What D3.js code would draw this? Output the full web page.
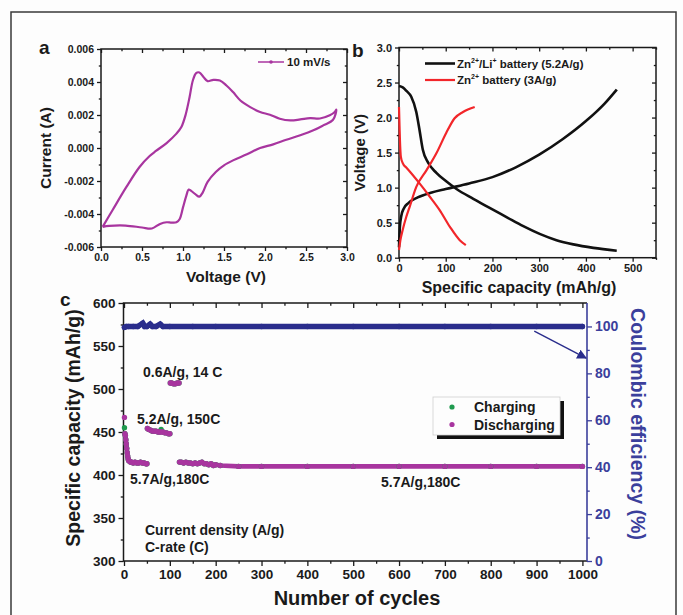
<!DOCTYPE html>
<html>
<head>
<meta charset="utf-8">
<script src="https://cdn.jsdelivr.net/npm/d3@7"></script>
<style>
  body { margin: 0; background: #fdfdfd; }
  text { font-family: "Liberation Sans", Arial, sans-serif; font-weight: bold; fill: #1a1a1a; }
</style>
</head>
<body>
<svg id="fig" width="683" height="615"></svg>
<script>
// ---------- Panel a: cyclic voltammogram at 10 mV/s ----------
const cvVoltage = [0.02,0.14,0.31,0.47,0.59,0.67,0.80,0.92,0.98,1.03,1.08,1.12,1.16,1.20,1.25,1.30,1.37,1.45,1.53,1.61,1.70,1.82,1.94,2.06,2.18,2.31,2.43,2.55,2.67,2.79,2.85,2.87,
  2.83,2.71,2.59,2.43,2.26,2.10,1.94,1.78,1.61,1.50,1.40,1.30,1.24,1.20,1.15,1.10,1.07,1.04,1.00,0.96,0.92,0.86,0.80,0.72,0.62,0.50,0.30,0.10,0.02];
const cvCurrent = [-0.00478,-0.00377,-0.00236,-0.00115,-0.00050,-0.00018,0.00030,0.00087,0.00127,0.00198,0.00308,0.00409,0.00454,0.00458,0.00430,0.00405,0.00413,0.00409,0.00379,0.00339,0.00288,0.00248,0.00218,0.00202,0.00177,0.00167,0.00173,0.00181,0.00179,0.00198,0.00218,0.00232,
  0.00171,0.00137,0.00107,0.00077,0.00050,0.00022,0.00000,-0.00038,-0.00075,-0.00105,-0.00145,-0.00205,-0.00270,-0.00295,-0.00280,-0.00260,-0.00252,-0.00290,-0.00360,-0.00430,-0.00450,-0.00452,-0.00450,-0.00460,-0.00488,-0.00482,-0.00470,-0.00472,-0.00478];
const cvXTicks = [0, 0.5, 1.0, 1.5, 2.0, 2.5, 3.0];
const cvYTicks = [-0.006, -0.004, -0.002, 0, 0.002, 0.004, 0.006];

// ---------- Panel b: galvanostatic profiles ----------
const liDisCap = [0,8,16,26,37,44,51,62,80,101,123,159,194,230,266,301,337,373,416,466];
const liDisV   = [2.45,2.43,2.38,2.30,2.08,1.82,1.54,1.36,1.21,1.09,0.98,0.84,0.71,0.58,0.45,0.34,0.25,0.19,0.14,0.10];
const liChgCap = [0,1,2,5,10,20,40,70,100,150,200,250,300,350,400,440,466];
const liChgV   = [0.15,0.32,0.45,0.60,0.70,0.78,0.86,0.93,0.98,1.06,1.15,1.29,1.47,1.69,1.95,2.20,2.40];
const znDisCap = [0,1,2,4,8,15,23,44,66,87,109,130,143];
const znDisV   = [2.15,1.90,1.68,1.44,1.35,1.29,1.23,1.06,0.87,0.68,0.44,0.25,0.18];
const znChgCap = [0,3,8,15,23,37,59,80,101,119,137,162];
const znChgV   = [0.11,0.25,0.40,0.57,0.73,1.01,1.25,1.49,1.78,1.99,2.08,2.15];
const capXTicks = [0, 100, 200, 300, 400, 500];
const capYTicks = [0, 0.5, 1.0, 1.5, 2.0, 2.5, 3.0];

// ---------- Panel c: rate / long-term cycling ----------
const capCycles = [1,2,3,4,5,6,7,8,9,10,12,14,17,20,24,28,32,36,40,44,48,50,
  51,54,58,62,66,70,74,78,81,85,89,93,97,100,
  101,104,108,112,116,120,
  121,125,130,135,140,145,150,155,160,165,170,175,180,185,190,195,200,210,250,300,400,500,600,700,800,900,1000];
const dischargeCap = [467,448,446,441,436,431,426,422,419,417,416,415,415,414,415,414,414,415,414,414,413,413,
  454,453,452,451,451,451,450,450,450,450,449,449,448,448,
  507,507,506,506,507,507,
  415,415,414,415,414,414,413,414,413,414,415,413,413,412,413,411,412,411,410,410,410,410,410,410,410,410,410];
const chargeCap = [455,448,446,441,436,431,426,422,419,417,416,415,415,414,415,414,414,415,414,414,413,413,
  454,453,452,451,451,451,450,450,453,450,449,449,448,448,
  507,507,506,506,507,507,
  415,415,414,415,414,414,413,414,413,414,415,413,413,412,413,411,412,411,410,410,410,410,410,410,410,410,410];
const rateSegmentStarts = [1, 51, 101, 121, 1001];
const ceCycles = [1,5,10,20,30,41,45,50,57,62,70,79,85,100,150,200,300,400,500,600,700,800,900,1000];
const ceValues = [99.6,100,100,100,100,101.4,100,100,101.0,100,100,101.0,100,100,100,100,100,100,100,100,100,100,100,100];
const cycleTicks = [0,100,200,300,400,500,600,700,800,900,1000];
const capTicksC = [300,350,400,450,500,550,600];
const ceTicks = [0,20,40,60,80,100];

const MAGENTA = "#a8359f", GREEN = "#1f9a4e", NAVY = "#2a2d8c", AXBLUE = "#3b3f9c", RED = "#f2262a";

const svg = d3.select("#fig");

// outer frame (three sides visible)
svg.append("path").attr("d", "M11,615 V12 H676 V615")
  .attr("fill", "none").attr("stroke", "#3a3a3a").attr("stroke-width", 1.5);

function range(a, b, s) { return d3.range(a, b + s / 2, s); }

// axis helper: major ticks with labels, minor ticks without
function axis(g, gen, scale, majors, minors, len, fmt, fontSize, color) {
  const major = g.append("g").call(gen(scale).tickValues(majors).tickSizeInner(len).tickSizeOuter(0)
      .tickPadding(3).tickFormat(fmt || (() => "")));
  const minor = g.append("g").call(gen(scale).tickValues(minors).tickSizeInner(len * 0.55).tickSizeOuter(0).tickFormat(() => ""));
  [major, minor].forEach(a => {
    a.select(".domain").remove();
    a.selectAll("line").attr("stroke", color || "#1a1a1a").attr("stroke-width", 1.3);
  });
  major.selectAll("text").attr("font-size", fontSize).style("fill", color || "#1a1a1a")
    .attr("font-family", '"Liberation Sans", Arial, sans-serif').attr("font-weight", "bold");
}
const hy = s => s.replace("\u2212", "-");

// ====================== Panel a ======================
const xA = d3.scaleLinear().domain([0, 3]).range([101, 347]);
const yA = d3.scaleLinear().domain([-0.006, 0.006]).range([247, 49]);
const gA = svg.append("g");
axis(gA.append("g").attr("transform", `translate(0,${yA(-0.006)})`), d3.axisBottom, xA, cvXTicks, range(0.25, 2.75, 0.5), 4, d => d3.format(".1f")(d), 10.5);
axis(gA.append("g").attr("transform", `translate(${xA(0)},0)`), d3.axisLeft, yA, cvYTicks, range(-0.005, 0.005, 0.002), 4, d => hy(d3.format(".3f")(d)), 10.5);
axis(gA.append("g").attr("transform", `translate(0,${yA(0.006)})`), d3.axisTop, xA, cvXTicks, range(0.25, 2.75, 0.5), -4, null, 10);
axis(gA.append("g").attr("transform", `translate(${xA(3)},0)`), d3.axisRight, yA, cvYTicks, range(-0.005, 0.005, 0.002), -4, null, 10);
gA.append("rect").attr("x", xA(0)).attr("y", yA(0.006)).attr("width", xA(3) - xA(0)).attr("height", yA(-0.006) - yA(0.006))
  .attr("fill", "none").attr("stroke", "#1a1a1a").attr("stroke-width", 1.5);

const cvPts = cvVoltage.map((v, i) => [v, cvCurrent[i]]);
const cvLine = d3.line().x(d => xA(d[0])).y(d => yA(d[1])).curve(d3.curveCatmullRom.alpha(0.5));
gA.append("path").attr("d", cvLine(cvPts)).attr("fill", "none").attr("stroke", MAGENTA).attr("stroke-width", 2.2);

// legend a
gA.append("line").attr("x1", 258).attr("x2", 284).attr("y1", 62).attr("y2", 62).attr("stroke", MAGENTA).attr("stroke-width", 1.5);
gA.append("circle").attr("cx", 271).attr("cy", 62).attr("r", 1.8).attr("fill", MAGENTA);
gA.append("text").attr("x", 287).attr("y", 66).attr("font-size", 11.5).text("10 mV/s");

gA.append("text").attr("x", 39).attr("y", 54).attr("font-size", 19).text("a");
gA.append("text").attr("transform", `translate(51,${yA(0)}) rotate(-90)`).attr("text-anchor", "middle").attr("font-size", 15.5).text("Current (A)");
gA.append("text").attr("x", 226).attr("y", 282).attr("text-anchor", "middle").attr("font-size", 15.5).text("Voltage (V)");

// ====================== Panel b ======================
const xB = d3.scaleLinear().domain([0, 550]).range([399, 656]);
const yB = d3.scaleLinear().domain([0, 3]).range([257.7, 47.5]);
const gB = svg.append("g");
axis(gB.append("g").attr("transform", `translate(0,${yB(0)})`), d3.axisBottom, xB, capXTicks, range(50, 550, 100), 4, d => d, 11);
axis(gB.append("g").attr("transform", `translate(${xB(0)},0)`), d3.axisLeft, yB, capYTicks, range(0.25, 2.75, 0.5), 4, d => d3.format(".1f")(d), 11);
axis(gB.append("g").attr("transform", `translate(0,${yB(3)})`), d3.axisTop, xB, capXTicks, range(50, 550, 100), -4, null, 10);
axis(gB.append("g").attr("transform", `translate(${xB(550)},0)`), d3.axisRight, yB, capYTicks, range(0.25, 2.75, 0.5), -4, null, 10);
gB.append("rect").attr("x", xB(0)).attr("y", yB(3)).attr("width", xB(550) - xB(0)).attr("height", yB(0) - yB(3))
  .attr("fill", "none").attr("stroke", "#1a1a1a").attr("stroke-width", 1.5);

const lineB = d3.line().x(d => xB(d[0])).y(d => yB(d[1])).curve(d3.curveMonotoneX);
const zip = (a, b) => a.map((v, i) => [v, b[i]]);
[[liDisCap, liDisV, "#111", 2.6], [liChgCap, liChgV, "#111", 2.6], [znDisCap, znDisV, RED, 2.2], [znChgCap, znChgV, RED, 2.2]]
  .forEach(([c, v, col, w]) => gB.append("path").attr("d", lineB(zip(c, v))).attr("fill", "none").attr("stroke", col).attr("stroke-width", w));

// legend b
gB.append("line").attr("x1", 425).attr("x2", 455).attr("y1", 63.5).attr("y2", 63.5).attr("stroke", "#111").attr("stroke-width", 2.6);
gB.append("line").attr("x1", 425).attr("x2", 455).attr("y1", 80).attr("y2", 80).attr("stroke", RED).attr("stroke-width", 2.2);
const lb1 = gB.append("text").attr("x", 457).attr("y", 67.5).attr("font-size", 11.5);
lb1.append("tspan").text("Zn");
lb1.append("tspan").attr("font-size", 7).attr("dy", -5).text("2+");
lb1.append("tspan").attr("dy", 5).text("/Li");
lb1.append("tspan").attr("font-size", 7).attr("dy", -5).text("+");
lb1.append("tspan").attr("dy", 5).text(" battery (5.2A/g)");
const lb2 = gB.append("text").attr("x", 457).attr("y", 84).attr("font-size", 11.5);
lb2.append("tspan").text("Zn");
lb2.append("tspan").attr("font-size", 7).attr("dy", -5).text("2+");
lb2.append("tspan").attr("dy", 5).text(" battery (3A/g)");

gB.append("text").attr("x", 352).attr("y", 57).attr("font-size", 19).text("b");
gB.append("text").attr("transform", `translate(365,${yB(1.5)}) rotate(-90)`).attr("text-anchor", "middle").attr("font-size", 15).text("Voltage (V)");
gB.append("text").attr("x", 519).attr("y", 292.5).attr("text-anchor", "middle").attr("font-size", 16).text("Specific capacity (mAh/g)");

// ====================== Panel c ======================
const xC = d3.scaleLinear().domain([0, 1010]).range([124, 587]);
const yC = d3.scaleLinear().domain([300, 600]).range([561, 303]);
const yCE = d3.scaleLinear().domain([0, 110]).range([561, 303]);
const gC = svg.append("g");
axis(gC.append("g").attr("transform", `translate(0,${yC(300)})`), d3.axisBottom, xC, cycleTicks, range(50, 950, 100), 5, d => d, 13.5);
axis(gC.append("g").attr("transform", `translate(${xC(0) - 0.5},0)`), d3.axisLeft, yC, capTicksC, range(325, 575, 50), 5, d => d, 13.5);
axis(gC.append("g").attr("transform", `translate(0,${yC(600)})`), d3.axisTop, xC, cycleTicks, range(50, 950, 100), -5, null, 10);
axis(gC.append("g").attr("transform", `translate(${xC(1010)},0)`), d3.axisRight, yCE, ceTicks, range(10, 90, 20), 5, d => d, 14, AXBLUE);
gC.append("path").attr("d", `M${xC(1010)},${yC(600)} H${xC(0) - 0.5} V${yC(300)} H${xC(1010)}`)
  .attr("fill", "none").attr("stroke", "#1a1a1a").attr("stroke-width", 1.5);
gC.append("line").attr("x1", xC(1010)).attr("x2", xC(1010)).attr("y1", yC(600)).attr("y2", yC(300))
  .attr("stroke", AXBLUE).attr("stroke-width", 1.6);

// split readings by current-density step
function segments(cyc, vals) {
  const segs = [];
  for (let s = 0; s < rateSegmentStarts.length - 1; s++) {
    const pts = cyc.map((c, i) => [c, vals[i]]).filter(p => p[0] >= rateSegmentStarts[s] && p[0] < rateSegmentStarts[s + 1]);
    if (pts.length) segs.push(pts);
  }
  return segs;
}
const bandLine = d3.line().x(d => xC(d[0])).y(d => yC(d[1]));
const bandLineCE = d3.line().x(d => xC(d[0])).y(d => yCE(d[1]));

// coulombic efficiency
gC.append("path").attr("d", bandLineCE(zip(ceCycles, ceValues))).attr("fill", "none").attr("stroke", NAVY)
  .attr("stroke-width", 5.4).attr("stroke-linecap", "round");
gC.selectAll(".ce").data(zip(ceCycles, ceValues)).join("circle")
  .attr("cx", d => xC(d[0])).attr("cy", d => yCE(d[1])).attr("r", 2.7).attr("fill", NAVY);

// discharge band under the dots
segments(capCycles, dischargeCap).forEach(seg => {
  gC.append("path").attr("d", bandLine(seg.filter(p => p[0] > 1))).attr("fill", "none").attr("stroke", MAGENTA)
    .attr("stroke-width", 4.6).attr("stroke-linecap", "round");
});
gC.selectAll(".chg").data(zip(capCycles, chargeCap)).join("circle")
  .attr("cx", d => xC(d[0])).attr("cy", d => yC(d[1])).attr("r", 2.7).attr("fill", GREEN);
gC.selectAll(".dis").data(zip(capCycles, dischargeCap)).join("circle")
  .attr("cx", d => xC(d[0])).attr("cy", d => yC(d[1])).attr("r", 2.7).attr("fill", MAGENTA);

// arrow pointing to the efficiency axis
const defs = svg.append("defs");
defs.append("marker").attr("id", "arr").attr("viewBox", "0 0 10 10").attr("refX", 9).attr("refY", 5)
  .attr("markerWidth", 7).attr("markerHeight", 7).attr("orient", "auto")
  .append("path").attr("d", "M0,0 L10,5 L0,10 z").attr("fill", NAVY);
gC.append("line").attr("x1", xC(895)).attr("y1", yCE(98)).attr("x2", xC(1008)).attr("y2", yCE(86.5))
  .attr("stroke", NAVY).attr("stroke-width", 1.4).attr("marker-end", "url(#arr)");

// legend c
gC.append("rect").attr("x", 437).attr("y", 401).attr("width", 127).attr("height", 38).attr("fill", "#111");
gC.append("rect").attr("x", 433).attr("y", 397).attr("width", 127).attr("height", 38).attr("fill", "#fdfdfd").attr("stroke", "#cfcfcf").attr("stroke-width", 0.8);
gC.append("circle").attr("cx", 452).attr("cy", 407).attr("r", 2.6).attr("fill", GREEN);
gC.append("circle").attr("cx", 452).attr("cy", 424.5).attr("r", 2.6).attr("fill", MAGENTA);
gC.append("text").attr("x", 474).attr("y", 412).attr("font-size", 14).text("Charging");
gC.append("text").attr("x", 474).attr("y", 430).attr("font-size", 14).text("Discharging");

// annotations
const ann = (x, y, s) => gC.append("text").attr("x", x).attr("y", y).attr("font-size", 14).text(s);
ann(143, 376.5, "0.6A/g, 14 C");
ann(137, 423.5, "5.2A/g, 150C");
ann(130, 484, "5.7A/g,180C");
ann(381, 487, "5.7A/g,180C");
ann(145, 535, "Current density (A/g)");
ann(145, 552, "C-rate (C)");

gC.append("text").attr("x", 60).attr("y", 306).attr("font-size", 19).text("c");
gC.append("text").attr("transform", `translate(80,428) rotate(-90)`).attr("text-anchor", "middle").attr("font-size", 19.5).text("Specific capacity (mAh/g)");
gC.append("text").attr("x", 357).attr("y", 605).attr("text-anchor", "middle").attr("font-size", 20).text("Number of cycles");
gC.append("text").attr("transform", `translate(631,424) rotate(90)`).attr("text-anchor", "middle").attr("font-size", 19.5)
  .style("fill", AXBLUE).text("Coulombic efficiency (%)");
</script>
</body>
</html>
